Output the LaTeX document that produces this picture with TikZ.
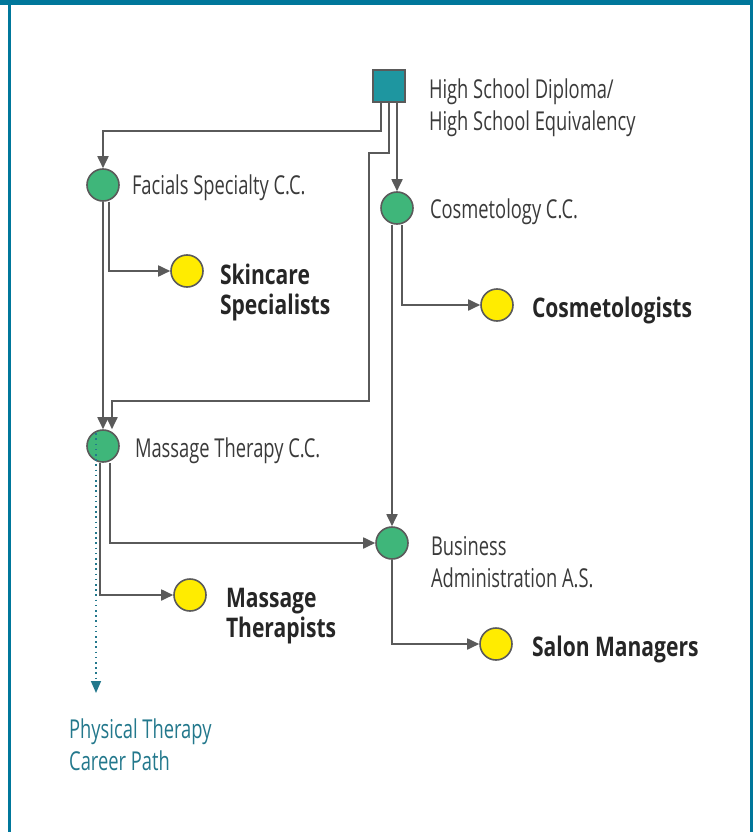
\documentclass[tikz,border=0pt]{standalone}
\usepackage{xcolor}
\usepackage{fontspec}
\setmainfont{Open Sans}[FakeStretch=0.705]
\newfontfamily\jobfont{Open Sans}[FakeStretch=0.78]
\usepackage{tikz}
\usetikzlibrary{positioning, arrows.meta}

\definecolor{frameteal}{HTML}{00779B}
\definecolor{boxteal}{HTML}{1E96A0}
\definecolor{progreen}{HTML}{3FB67A}
\definecolor{jobyellow}{HTML}{FFEC00}
\definecolor{linegray}{HTML}{5A5A5A}
\definecolor{textgray}{HTML}{3A3A3A}
\definecolor{pathteal}{HTML}{23788C}

\begin{document}
\begin{tikzpicture}[
    x=1pt, y=-1pt,
    diploma/.style={rectangle, draw=linegray, line width=1.6pt, fill=boxteal, minimum size=32pt, inner sep=0},
    program/.style={circle, draw=linegray, line width=1.6pt, fill=progreen, minimum size=32pt, inner sep=0},
    career/.style={circle, draw=linegray, line width=1.6pt, fill=jobyellow, minimum size=32pt, inner sep=0},
    progname/.style={inner sep=0, align=left, text=textgray, font=\fontsize{26}{32}\selectfont},
    jobname/.style={inner sep=0, align=left, text=black!85, font=\jobfont\bfseries\fontsize{27}{30}\selectfont},
    pathname/.style={inner sep=0, align=left, text=pathteal, font=\fontsize{26}{32}\selectfont},
    arrow/.style={-{Triangle[length=12pt, width=11pt]}, draw=linegray, line width=1.8pt},
    patharrow/.style={-{Triangle[length=12pt, width=10pt]}, draw=pathteal, line width=1.6pt, dash pattern=on 1.6pt off 3.6pt}
]
\useasboundingbox (0,0) rectangle (753,832);

% Frame
\fill[frameteal] (0,0) rectangle (753,5);
\fill[frameteal] (8,0) rectangle (10.5,832);
\fill[frameteal] (750,0) rectangle (753,832);

% Starting point
\node[diploma] (hs) at (389,86) {};
\node[progname, right=23pt of hs, yshift=-22pt] (hslabel) {High School Diploma/\\High School Equivalency};

% Programs
\node[program] (fac) at (103,185) {};
\node[program] (cos) at (397,208) {};
\node[program] (mas) at (103,446) {};
\node[program] (bus) at (392,543) {};
\node[progname, right=12pt of fac, yshift=-3pt] (faclabel) {Facials Specialty C.C.};
\node[progname, right=16pt of cos, yshift=-4pt] (coslabel) {Cosmetology C.C.};
\node[progname, right=15pt of mas, yshift=-5pt] (maslabel) {Massage Therapy C.C.};
\node[progname, right=22pt of bus, yshift=-19pt] (buslabel) {Business\\Administration A.S.};

% Careers
\node[career] (skin) at (187,271) {};
\node[career] (cmt) at (497,305) {};
\node[career] (mt) at (190,595) {};
\node[career] (sal) at (496,644) {};
\node[jobname, right=16pt of skin, yshift=-21pt] (skinlabel) {Skincare\\Specialists};
\node[jobname, right=18pt of cmt, yshift=-5pt] (cmtlabel) {Cosmetologists};
\node[jobname, right=19pt of mt, yshift=-21pt] (mtlabel) {Massage\\Therapists};
\node[jobname, right=19pt of sal, yshift=-5pt] (sallabel) {Salon Managers};

% Other path
\coordinate (ptend) at (96,693);
\node[pathname, below right=26pt and -27pt of ptend] (ptlabel) {Physical Therapy\\Career Path};

% Flows
\draw[arrow] ([xshift=-8pt]hs.south) -- ++(0,28) -| (fac);
\draw[arrow] (hs.south) -- ++(0,50) -- ++(-20,0) -- ++(0,248) -| ([xshift=9pt]mas.north);
\draw[arrow] ([xshift=8pt]hs.south) -- (cos);
\draw[arrow] (fac) -- (mas);
\draw[arrow] ([xshift=6pt]fac.south) |- (skin);
\draw[arrow] ([xshift=5pt]cos.south) |- (cmt);
\draw[arrow] ([xshift=-5pt]cos.south) -- (bus);
\draw[arrow] ([xshift=-3pt]mas.south) |- (mt);
\draw[arrow] ([xshift=7pt]mas.south) |- (bus);
\draw[arrow] (bus) |- (sal);
\draw[patharrow] ([xshift=-7pt, yshift=-4pt]mas.north) -- (ptend);

\end{tikzpicture}
\end{document}
